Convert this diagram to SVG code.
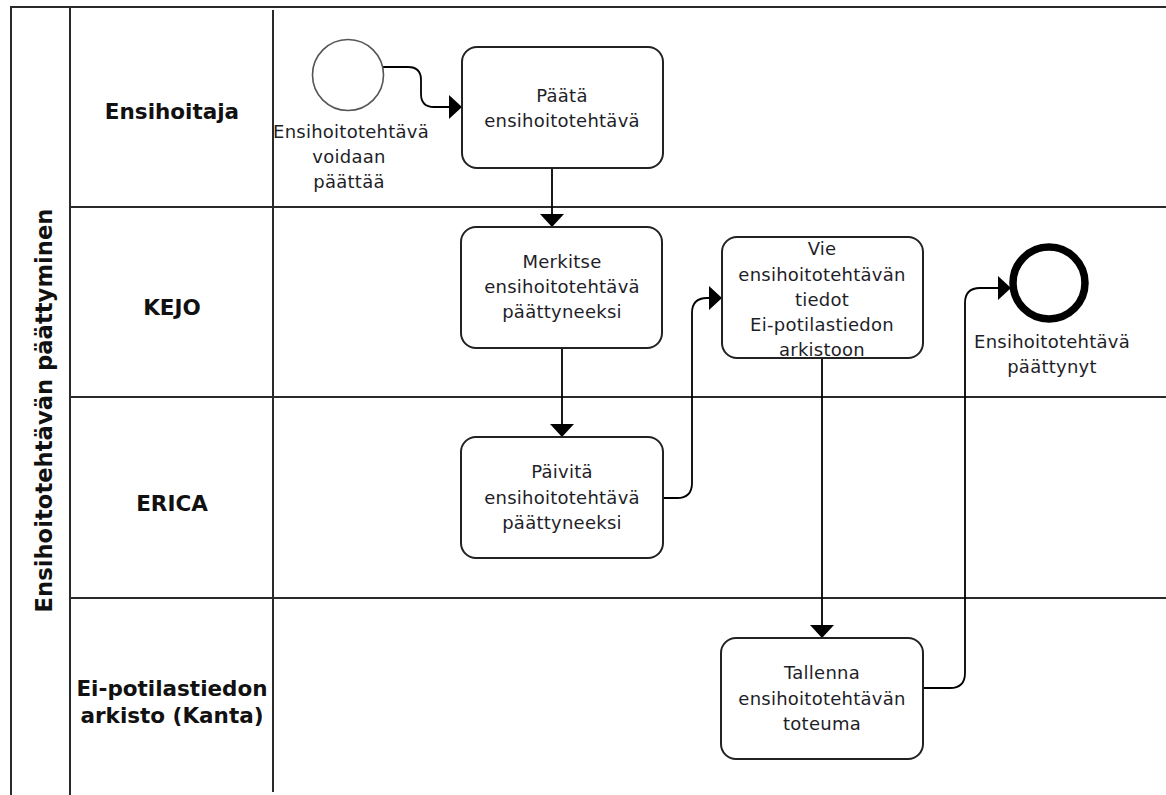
<svg xmlns="http://www.w3.org/2000/svg" width="1166" height="795" viewBox="0 0 1166 795">
<defs>
<style>
.frame{fill:none;stroke:#2a2a2a;stroke-width:2}
.task{fill:#fff;stroke:#222;stroke-width:2}
.t{font-family:"DejaVu Sans",Verdana,sans-serif;font-size:18px;letter-spacing:0.25px;fill:#1e1e28;text-anchor:middle}
.lane{font-family:"DejaVu Sans",Verdana,sans-serif;font-size:21.5px;font-weight:bold;fill:#111;text-anchor:middle}
.title{font-size:22.7px}
.conn{fill:none;stroke:#000;stroke-width:1.8}
</style>
<marker id="arr" markerUnits="userSpaceOnUse" viewBox="0 0 13 24" markerWidth="13" markerHeight="24" refX="13" refY="12" orient="auto">
<path d="M0,0 L13,12 L0,24 Z" fill="#000"/>
</marker>
</defs>
<rect width="1166" height="795" fill="#fff"/>
<g id="pool">
<path class="frame" d="M11,795 V7 H1166"/>
<path class="frame" d="M70,7 V795"/>
<path class="frame" d="M273,10 V792"/>
<path class="frame" d="M70,207 H1166 M70,397 H1166 M70,598 H1166"/>
<text class="lane title" transform="translate(51.5,410.5) rotate(-90)">Ensihoitotehtävän päättyminen</text>
</g>
<g id="lane-ensihoitaja"><text class="lane" x="172" y="119">Ensihoitaja</text></g>
<g id="lane-kejo"><text class="lane" x="172" y="315">KEJO</text></g>
<g id="lane-erica"><text class="lane" x="172" y="511">ERICA</text></g>
<g id="lane-kanta"><text class="lane" x="172" y="696">Ei-potilastiedon</text><text class="lane" x="172" y="723">arkisto (Kanta)</text></g>
<g id="connectors">
<path class="conn" d="M383,67 H408 Q421,67 421,80 V94 Q421,107 434,107 H462" marker-end="url(#arr)"/>
<path class="conn" d="M552,168 V227" marker-end="url(#arr)"/>
<path class="conn" d="M562,348 V437" marker-end="url(#arr)"/>
<path class="conn" d="M663,498 H677 Q692,498 692,483 V313 Q692,298 707,298 H722" marker-end="url(#arr)"/>
<path class="conn" d="M822,358 V638" marker-end="url(#arr)"/>
<path class="conn" d="M923,688 H950 Q965,688 965,673 V303 Q965,288 980,288 H1011" marker-end="url(#arr)"/>
</g>
<g id="start">
<circle cx="348" cy="75" r="35.5" fill="#fff" stroke="#555" stroke-width="1.6"/>
<text class="t" x="351" y="138">Ensihoitotehtävä</text>
<text class="t" x="349" y="163">voidaan</text>
<text class="t" x="349" y="188">päättää</text>
</g>
<g id="task-paata">
<rect class="task" x="462" y="47" width="201" height="121" rx="15"/>
<text class="t" x="562" y="101.5">Päätä</text>
<text class="t" x="562" y="127">ensihoitotehtävä</text>
</g>
<g id="task-merkitse">
<rect class="task" x="461" y="227" width="201" height="121" rx="15"/>
<text class="t" x="562" y="268">Merkitse</text>
<text class="t" x="562" y="293">ensihoitotehtävä</text>
<text class="t" x="562" y="318">päättyneeksi</text>
</g>
<g id="task-vie">
<rect class="task" x="722" y="237" width="201" height="121" rx="15"/>
<text class="t" x="822" y="255">Vie</text>
<text class="t" x="822" y="280.5">ensihoitotehtävän</text>
<text class="t" x="822" y="305.5">tiedot</text>
<text class="t" x="822" y="330.5">Ei-potilastiedon</text>
<text class="t" x="822" y="356">arkistoon</text>
</g>
<g id="task-paivita">
<rect class="task" x="461" y="437" width="202" height="121" rx="15"/>
<text class="t" x="562" y="478">Päivitä</text>
<text class="t" x="562" y="504">ensihoitotehtävä</text>
<text class="t" x="562" y="528.5">päättyneeksi</text>
</g>
<g id="task-tallenna">
<rect class="task" x="721" y="638" width="202" height="121" rx="15"/>
<text class="t" x="822" y="679">Tallenna</text>
<text class="t" x="822" y="705">ensihoitotehtävän</text>
<text class="t" x="822" y="730">toteuma</text>
</g>
<g id="end">
<circle cx="1049" cy="283" r="36" fill="#fff" stroke="#000" stroke-width="7.5"/>
<text class="t" x="1052" y="348">Ensihoitotehtävä</text>
<text class="t" x="1052" y="373">päättynyt</text>
</g>
</svg>
